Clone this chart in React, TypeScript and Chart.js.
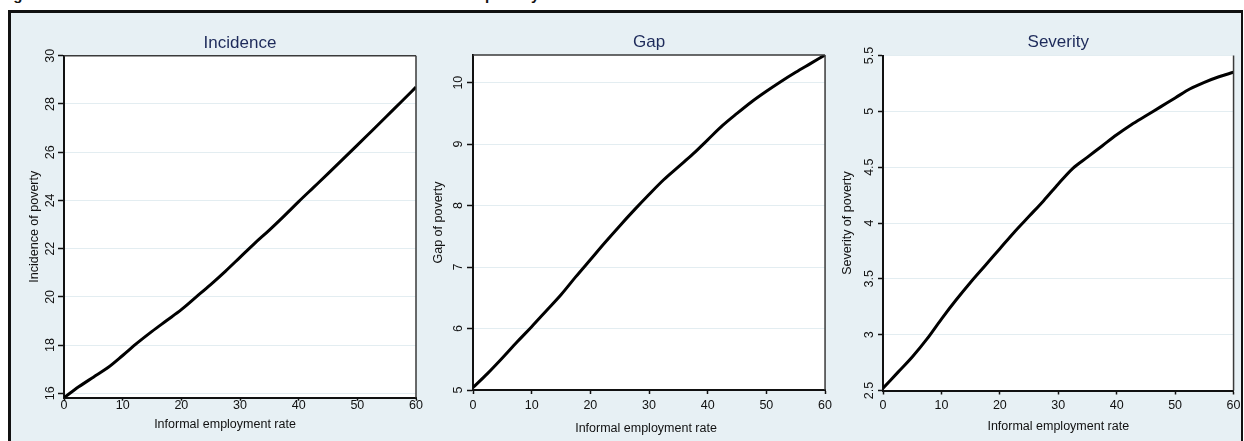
import React, { useEffect, useRef } from 'react';
import { Chart, registerables } from 'chart.js';

Chart.register(...registerables);

// ---- data ----
const informalRate = [0, 2.5, 5, 7.5, 10, 12.5, 15, 17.5, 20, 22.5, 25, 27.5, 30, 32.5, 35, 37.5, 40, 42.5, 45, 47.5, 50, 52.5, 55, 57.5, 60];
const incidence = [15.82, 16.27, 16.67, 17.07, 17.57, 18.09, 18.57, 19.02, 19.47, 19.99, 20.51, 21.06, 21.64, 22.22, 22.77, 23.35, 23.95, 24.53, 25.11, 25.7, 26.29, 26.89, 27.49, 28.09, 28.7];
const gap = [5.04, 5.27, 5.52, 5.78, 6.03, 6.29, 6.55, 6.84, 7.12, 7.4, 7.67, 7.93, 8.18, 8.42, 8.63, 8.84, 9.07, 9.3, 9.5, 9.69, 9.86, 10.02, 10.17, 10.31, 10.45];
const severity = [2.52, 2.66, 2.8, 2.96, 3.14, 3.31, 3.47, 3.62, 3.77, 3.92, 4.06, 4.2, 4.35, 4.49, 4.59, 4.69, 4.79, 4.88, 4.96, 5.04, 5.12, 5.2, 5.26, 5.31, 5.35];

const xTicks = [0, 10, 20, 30, 40, 50, 60];
const incidenceTicks = [16, 18, 20, 22, 24, 26, 28, 30];
const gapTicks = [5, 6, 7, 8, 9, 10];
const severityTicks = [2.5, 3, 3.5, 4, 4.5, 5, 5.5];

const panelTitles = ['Incidence', 'Gap', 'Severity'];
const yTitles = ['Incidence of poverty', 'Gap of poverty', 'Severity of poverty'];
const xTitle = 'Informal employment rate';
const figureCaption = 'Figure 4: Effect of the informal sector rate on the three measures of poverty';

const seriesList = [incidence, gap, severity];
const yTickList = [incidenceTicks, gapTicks, severityTicks];
const yMin = [15.82, 5, 2.5];
const yMax = [30, 10.45, 5.5];

// ---- layout / style ----
const FONT = "'Liberation Sans', Arial, Helvetica, sans-serif";
const BG = '#e7f0f4';
const GRID = '#e3edf1';
const INK = '#111111';
const TITLE_INK = '#1d2a5a';
const LABEL_SIZE = 12.5;

const layouts = [
  { left: 12, width: 414, rightPad: 10, titleTop: 20.8, titleBottom: 2.5, xH: 43.3, xTick: 3, xPad: -2.7, xTitleY: 413, xTitleDx: -15, yTick: 6, yPad: 0.75, yTitlePad: 15, frameTop: true },
  { left: 421, width: 415, rightPad: 10, titleTop: 20.3, titleBottom: 2.3, xH: 51, xTick: 4, xPad: 4, xTitleY: 416.5, xTitleDx: -3, yTick: 6, yPad: 1.75, yTitlePad: 10.5, frameTop: true },
  { left: 831, width: 413, rightPad: 8, titleTop: 19.8, titleBottom: 3.3, xH: 50.5, xTick: 4, xPad: 3.5, xTitleY: 414.5, xTitleDx: 0, yTick: 5, yPad: -0.7, yTitlePad: 9.5, frameTop: false },
];
const CANVAS_TOP = 12;
const CANVAS_H = 429;
const Y_AXIS_W = 52;

const plotFrame = {
  id: 'plotFrame',
  beforeDraw(chart: any) {
    const { ctx, chartArea: a } = chart;
    ctx.save();
    ctx.fillStyle = '#ffffff';
    ctx.fillRect(a.left, a.top, a.right - a.left, a.bottom - a.top);
    ctx.restore();
  },
  afterDatasetsDraw(chart: any, _args: any, opts: any) {
    const { ctx, chartArea: a } = chart;
    ctx.save();
    ctx.strokeStyle = '#3a3a3a';
    ctx.lineWidth = 1.5;
    ctx.beginPath();
    if (opts.top) {
      ctx.moveTo(a.left, a.top);
      ctx.lineTo(a.right, a.top);
    }
    ctx.moveTo(a.right, a.top);
    ctx.lineTo(a.right, a.bottom);
    ctx.stroke();
    ctx.restore();
  },
  afterDraw(chart: any, _args: any, opts: any) {
    // x-axis title, centred as in the reference panel
    const { ctx, chartArea: a } = chart;
    ctx.save();
    ctx.fillStyle = INK;
    ctx.font = `${LABEL_SIZE}px ${FONT}`;
    ctx.textAlign = 'center';
    ctx.textBaseline = 'middle';
    ctx.fillText(opts.xTitle, (a.left + a.right) / 2 + opts.xTitleDx, opts.xTitleY);
    ctx.restore();
  },
};

function makeConfig(i: number): any {
  const L = layouts[i];
  const series = seriesList[i];
  const yt = yTickList[i];
  const font = { size: LABEL_SIZE, family: FONT };
  return {
    type: 'line',
    data: {
      datasets: [
        {
          data: informalRate.map((x, k) => ({ x, y: series[k] })),
          borderColor: '#000',
          borderWidth: 3,
          pointRadius: 0,
          cubicInterpolationMode: 'monotone',
          fill: false,
        },
      ],
    },
    options: {
      animation: false,
      responsive: false,
      devicePixelRatio: 1,
      layout: { padding: { left: 0, right: L.rightPad, top: 0, bottom: 0 } },
      plugins: {
        legend: { display: false },
        tooltip: { enabled: false },
        title: {
          display: true,
          fullSize: false,
          text: panelTitles[i],
          color: TITLE_INK,
          font: { size: 17, family: FONT, weight: 'normal' },
          padding: { top: L.titleTop, bottom: L.titleBottom },
        },
        plotFrame: { top: L.frameTop, xTitle, xTitleDx: L.xTitleDx, xTitleY: L.xTitleY },
      },
      scales: {
        x: {
          type: 'linear',
          min: 0,
          max: 60,
          afterBuildTicks: (s: any) => {
            s.ticks = xTicks.map((v) => ({ value: v }));
          },
          afterFit: (s: any) => {
            s.height = L.xH;
          },
          grid: { drawOnChartArea: false, drawTicks: true, tickLength: L.xTick, tickColor: INK, tickWidth: 1.5 },
          border: { color: INK, width: 2 },
          ticks: { padding: L.xPad, color: INK, font, maxRotation: 0, autoSkip: false, callback: (v: any) => String(v) },
          title: { display: false },
        },
        y: {
          type: 'linear',
          min: yMin[i],
          max: yMax[i],
          afterBuildTicks: (s: any) => {
            s.ticks = yt.map((v) => ({ value: v }));
          },
          afterFit: (s: any) => {
            s.width = Y_AXIS_W;
          },
          grid: { color: GRID, lineWidth: 1, drawTicks: true, tickLength: L.yTick, tickColor: INK, tickWidth: 1.5 },
          border: { color: INK, width: 2 },
          ticks: {
            padding: L.yPad,
            color: INK,
            font,
            minRotation: 90,
            maxRotation: 90,
            crossAlign: 'center',
            autoSkip: false,
            callback: (v: any) => String(v),
          },
          title: { display: true, text: yTitles[i], color: INK, font, padding: { top: L.yTitlePad, bottom: 0 } },
        },
      },
    },
    plugins: [plotFrame],
  };
}

export default function App() {
  const r0 = useRef<HTMLCanvasElement>(null);
  const r1 = useRef<HTMLCanvasElement>(null);
  const r2 = useRef<HTMLCanvasElement>(null);
  const refs = [r0, r1, r2];

  useEffect(() => {
    const charts = refs.map((r, i) => new Chart(r.current as HTMLCanvasElement, makeConfig(i)));
    return () => charts.forEach((c) => c.destroy());
  }, []);

  return (
    <div style={{ position: 'absolute', left: 0, top: 0, width: 1244, height: 441, overflow: 'hidden', background: '#ffffff' }}>
      <div
        style={{
          position: 'absolute',
          left: 0,
          top: -13,
          whiteSpace: 'nowrap',
          font: `bold 15px ${FONT}`,
          lineHeight: '15px',
          color: '#111',
        }}
      >
        {figureCaption}
      </div>
      <div
        style={{
          position: 'absolute',
          left: 8,
          top: 10,
          width: 1230,
          height: 500,
          borderLeft: '3px solid #111',
          borderTop: '3px solid #111',
          borderRight: '2px solid #111',
          background: BG,
        }}
      />
      {layouts.map((L, i) => (
        <canvas
          key={i}
          ref={refs[i]}
          width={L.width}
          height={CANVAS_H}
          style={{ position: 'absolute', left: L.left, top: CANVAS_TOP, width: L.width, height: CANVAS_H }}
        />
      ))}
    </div>
  );
}
